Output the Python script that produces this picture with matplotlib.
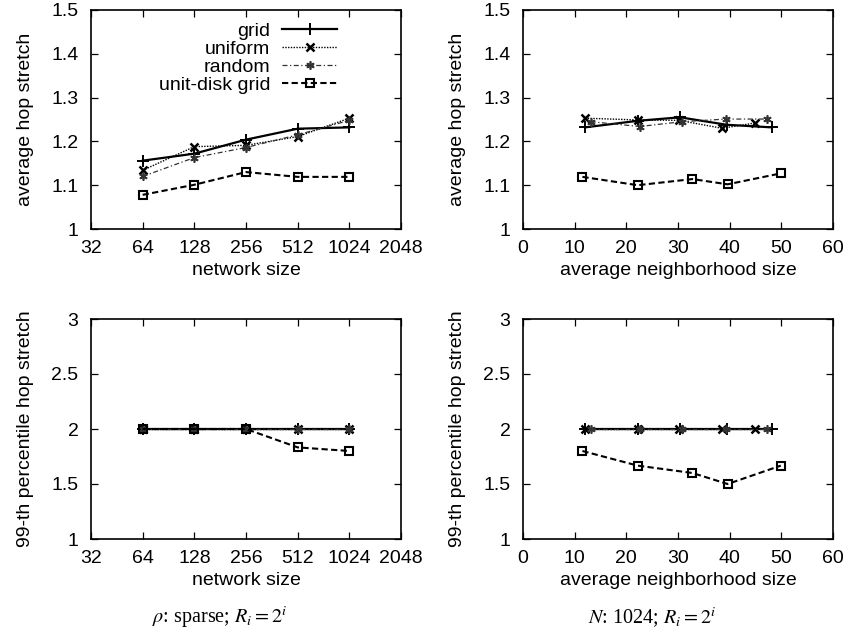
import matplotlib
matplotlib.use("Agg")
import matplotlib.pyplot as plt
from matplotlib.ticker import FixedLocator, FuncFormatter

plt.rcParams['font.family'] = ['Liberation Sans', 'DejaVu Sans']
plt.rcParams['mathtext.fontset'] = 'stix'
plt.rcParams['font.size'] = 14

# ---------------- data ----------------
series_names = ["grid", "uniform", "random", "unit-disk grid"]

# network size panels (left)
net_sizes = [64, 128, 256, 512, 1024]
avg_net_grid = [1.156, 1.172, 1.204, 1.229, 1.232]
avg_net_uniform = [1.134, 1.188, 1.191, 1.211, 1.253]
avg_net_random = [1.120, 1.163, 1.186, 1.215, 1.248]
avg_net_udg = [1.078, 1.101, 1.130, 1.119, 1.119]

p99_net_grid = [2, 2, 2, 2, 2]
p99_net_uniform = [2, 2, 2, 2, 2]
p99_net_random = [2, 2, 2, 2, 2]
p99_net_udg = [2, 2, 2, 1.833, 1.80]

# neighborhood size panels (right)
nb_grid = [12.0, 22.2, 30.4, 39.4, 48.2]
nb_uniform = [12.0, 22.2, 30.2, 38.5, 44.9]
nb_random = [13.1, 22.6, 30.8, 39.3, 47.2]
nb_udg = [11.5, 22.2, 32.8, 39.6, 49.9]

avg_nb_grid = [1.232, 1.247, 1.255, 1.238, 1.232]
avg_nb_uniform = [1.253, 1.249, 1.248, 1.230, 1.242]
avg_nb_random = [1.245, 1.234, 1.245, 1.251, 1.251]
avg_nb_udg = [1.119, 1.100, 1.114, 1.102, 1.127]

p99_nb_grid = [2, 2, 2, 2, 2]
p99_nb_uniform = [2, 2, 2, 2, 2]
p99_nb_random = [2, 2, 2, 2, 2]
p99_nb_udg = [1.80, 1.667, 1.60, 1.50, 1.667]

net_ticks = [32, 64, 128, 256, 512, 1024, 2048]
nb_ticks = [0, 10, 20, 30, 40, 50, 60]
avg_yticks = [1, 1.1, 1.2, 1.3, 1.4, 1.5]
p99_yticks = [1, 1.5, 2, 2.5, 3]

# ---------------- styles ----------------
styles = [
    dict(color='black', lw=1.6, ls='-', marker='+', ms=8.5, mew=1.4),
    dict(color='black', lw=1.0, ls=(0, (1, 1)), marker='x', ms=5.5, mew=1.8),
    dict(color='#333333', lw=0.9, ls=(0, (4, 2, 1, 2)), marker=(6, 2, 0), ms=6, mew=1.2),
    dict(color='black', lw=1.5, ls=(0, (3, 1.6)), marker='s', ms=5.5, mew=1.5, mfc='none'),
]

fig = plt.figure(figsize=(8.49, 6.33), dpi=100)
W, H = 849.0, 633.0

def add_ax(x0, y0, x1, y1):
    return fig.add_axes([x0 / W, 1 - y1 / H, (x1 - x0) / W, (y1 - y0) / H])

ax_tl = add_ax(91, 10, 401, 229)
ax_tr = add_ax(523, 10, 833, 229)
ax_bl = add_ax(91, 319, 401, 539)
ax_br = add_ax(523, 319, 833, 539)

fmt = FuncFormatter(lambda v, p: "%g" % v)

def style_ax(ax, xlabel, ylabel, yticks, log):
    if log:
        ax.set_xscale('log', base=2)
        ax.set_xlim(32, 2048)
        ax.xaxis.set_major_locator(FixedLocator(net_ticks))
        ax.xaxis.set_minor_locator(FixedLocator([]))
    else:
        ax.set_xlim(0, 60)
        ax.xaxis.set_major_locator(FixedLocator(nb_ticks))
    ax.xaxis.set_major_formatter(fmt)
    ax.set_ylim(yticks[0], yticks[-1])
    ax.yaxis.set_major_locator(FixedLocator(yticks))
    ax.yaxis.set_major_formatter(fmt)
    ax.tick_params(which='both', direction='in', top=True, right=True,
                   length=5, width=0.9, labelsize=14)
    ax.tick_params(axis='x', pad=8)
    ax.tick_params(axis='y', pad=9)
    for s in ax.spines.values():
        s.set_linewidth(1.2)
    ax.set_xlabel(xlabel, fontsize=14)
    ax.set_ylabel(ylabel, fontsize=14)
    h = ax.get_position().height * H
    ax.xaxis.set_label_coords(0.5, -33.0 / h)
    ax.yaxis.set_label_coords(-57.0 / 310.0, 0.5)

def plot_set(ax, xs, ys):
    for x, y, st, name in zip(xs, ys, styles, series_names):
        ax.plot(x, y, label=name, clip_on=False, **st)

plot_set(ax_tl, [net_sizes] * 4,
         [avg_net_grid, avg_net_uniform, avg_net_random, avg_net_udg])
plot_set(ax_tr, [nb_grid, nb_uniform, nb_random, nb_udg],
         [avg_nb_grid, avg_nb_uniform, avg_nb_random, avg_nb_udg])
plot_set(ax_bl, [net_sizes] * 4,
         [p99_net_grid, p99_net_uniform, p99_net_random, p99_net_udg])
plot_set(ax_br, [nb_grid, nb_uniform, nb_random, nb_udg],
         [p99_nb_grid, p99_nb_uniform, p99_nb_random, p99_nb_udg])

style_ax(ax_tl, "network size", "average hop stretch", avg_yticks, True)
style_ax(ax_tr, "average neighborhood size", "average hop stretch", avg_yticks, False)
style_ax(ax_bl, "network size", "99-th percentile hop stretch", p99_yticks, True)
style_ax(ax_br, "average neighborhood size", "99-th percentile hop stretch", p99_yticks, False)

leg = ax_tl.legend(loc='upper right', bbox_to_anchor=(0.795, 0.945),
                   frameon=False, markerfirst=False, fontsize=14,
                   handlelength=2.85, handletextpad=0.6, labelspacing=0.02,
                   borderpad=0, borderaxespad=0, numpoints=1)

fig.text(220 / W, 1 - 623 / H, r"$\rho$: sparse; $R_i = 2^i$",
         ha='center', va='baseline', fontsize=14.5, family='Liberation Serif')
fig.text(652 / W, 1 - 623 / H, r"$N$: 1024; $R_i = 2^i$",
         ha='center', va='baseline', fontsize=14.5, family='Liberation Serif')

fig.savefig("out.png", dpi=100)
